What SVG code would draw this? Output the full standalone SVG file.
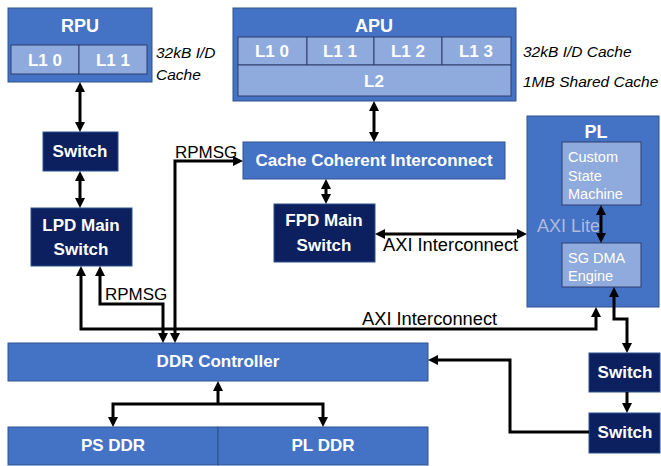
<svg xmlns="http://www.w3.org/2000/svg" width="661" height="466" viewBox="0 0 661 466">
<defs>
<marker id="ah" viewBox="0 0 10 10" refX="6" refY="5" markerWidth="10" markerHeight="10" markerUnits="userSpaceOnUse" orient="auto-start-reverse">
<path d="M0,0 L10,5 L0,10 z" fill="#000"/>
</marker>
<style>
.mid{fill:#4472C4;stroke:#2F528F;stroke-width:1}
.lt{fill:#8FAADC;stroke:#2F3F6F;stroke-width:1}
.dk{fill:#0C1F5E;stroke:#2F528F;stroke-width:1}
.t{font-family:"Liberation Sans",Arial,sans-serif;fill:#fff;font-weight:bold;text-anchor:middle}
.s{font-family:"Liberation Sans",Arial,sans-serif;fill:#fff;font-size:14.5px}
.n{font-family:"Liberation Sans",Arial,sans-serif;fill:#000}
.i{font-family:"Liberation Sans",Arial,sans-serif;fill:#000;font-size:15.5px;font-style:italic}
.c{fill:none;stroke:#000;stroke-width:3;stroke-linejoin:miter}
.b{marker-start:url(#ah);marker-end:url(#ah)}
.e{marker-end:url(#ah)}
</style>
</defs>
<rect width="661" height="466" fill="#fff"/>
<g id="rpu">
<rect class="mid" x="8" y="8" width="144" height="74"/>
<text class="t" x="80" y="32" font-size="18">RPU</text>
<rect class="lt" x="11" y="45" width="68" height="29"/>
<rect class="lt" x="79" y="45" width="68" height="29"/>
<text class="t" x="45" y="66" font-size="17">L1 0</text>
<text class="t" x="113" y="66" font-size="17">L1 1</text>
<text class="i" x="156" y="58">32kB I/D</text>
<text class="i" x="156" y="80">Cache</text>
</g>
<g id="apu">
<rect class="mid" x="233" y="8" width="283" height="93"/>
<text class="t" x="374" y="32" font-size="18">APU</text>
<rect class="lt" x="238" y="37" width="69" height="28"/>
<rect class="lt" x="307" y="37" width="67" height="28"/>
<rect class="lt" x="374" y="37" width="68" height="28"/>
<rect class="lt" x="442" y="37" width="69" height="28"/>
<rect class="lt" x="238" y="65" width="273" height="31"/>
<text class="t" x="272" y="57" font-size="17">L1 0</text>
<text class="t" x="340" y="57" font-size="17">L1 1</text>
<text class="t" x="408" y="57" font-size="17">L1 2</text>
<text class="t" x="476" y="57" font-size="17">L1 3</text>
<text class="t" x="374" y="87" font-size="17">L2</text>
<text class="i" x="523" y="57">32kB I/D Cache</text>
<text class="i" x="523" y="87">1MB Shared Cache</text>
</g>
<g id="switch-rpu">
<rect class="dk" x="43" y="132" width="75" height="39"/>
<text class="t" x="80" y="157" font-size="17">Switch</text>
</g>
<g id="lpd">
<rect class="dk" x="31" y="208" width="101" height="58"/>
<text class="t" x="81" y="231" font-size="17">LPD Main</text>
<text class="t" x="81" y="255" font-size="17">Switch</text>
</g>
<g id="cci">
<rect class="mid" x="243" y="142" width="262" height="37"/>
<text class="t" x="374" y="166" font-size="17">Cache Coherent Interconnect</text>
</g>
<g id="fpd">
<rect class="dk" x="274" y="204" width="101" height="58"/>
<text class="t" x="324" y="226" font-size="17">FPD Main</text>
<text class="t" x="324" y="251" font-size="17">Switch</text>
</g>
<g id="pl">
<rect class="mid" x="527" y="116" width="132" height="191"/>
<text class="t" x="596" y="138" font-size="18">PL</text>
<text x="537" y="232" font-family="Liberation Sans,Arial,sans-serif" font-size="18" fill="#AEBBDD">AXI Lite</text>
</g>
<g id="csm">
<rect class="lt" x="562" y="142" width="79" height="63"/>
<text class="s" x="568" y="162">Custom</text>
<text class="s" x="568" y="181">State</text>
<text class="s" x="568" y="199">Machine</text>
</g>
<g id="sgdma">
<rect class="lt" x="562" y="243" width="79" height="44"/>
<text class="s" x="568" y="263">SG DMA</text>
<text class="s" x="568" y="281">Engine</text>
</g>
<g id="switch1">
<rect class="dk" x="589" y="353" width="71" height="39"/>
<text class="t" x="625" y="378" font-size="17">Switch</text>
</g>
<g id="switch2">
<rect class="dk" x="589" y="413" width="71" height="40"/>
<text class="t" x="625" y="438" font-size="17">Switch</text>
</g>
<g id="ddrc">
<rect class="mid" x="8" y="343" width="420" height="38"/>
<text class="t" x="218" y="367" font-size="17">DDR Controller</text>
</g>
<g id="psddr">
<rect class="mid" x="8" y="427" width="210" height="38"/>
<text class="t" x="113" y="451" font-size="17">PS DDR</text>
</g>
<g id="plddr">
<rect class="mid" x="218" y="427" width="210" height="38"/>
<text class="t" x="323" y="451" font-size="17">PL DDR</text>
</g>
<g id="connectors">
<path class="c b" d="M80,86 V128"/>
<path class="c b" d="M80,175 V204"/>
<path class="c b" d="M81,270 V329 H596 V311"/>
<path class="c b" d="M100,270 V304 H163 V339"/>
<path class="c b" d="M175,339 V161 H239"/>
<path class="c b" d="M374,105 V138"/>
<path class="c b" d="M326,183 V200"/>
<path class="c b" d="M379,234 H523"/>
<path class="c b" d="M601,209 V239"/>
<path class="c b" d="M614,291 V319 H627 V349"/>
<path class="c e" d="M627,392 V409"/>
<path class="c e" d="M589,432 H510 V360 H432"/>
<path class="c e" d="M218,404 V385"/>
<path class="c b" d="M113,423 V404 H323 V423"/>
<text class="n" x="175" y="158" font-size="17">RPMSG</text>
<text class="n" x="105" y="300" font-size="17">RPMSG</text>
<text class="n" x="362" y="325" font-size="18.3">AXI Interconnect</text>
<text class="n" x="383" y="251" font-size="18.3">AXI Interconnect</text>
</g>
</svg>
